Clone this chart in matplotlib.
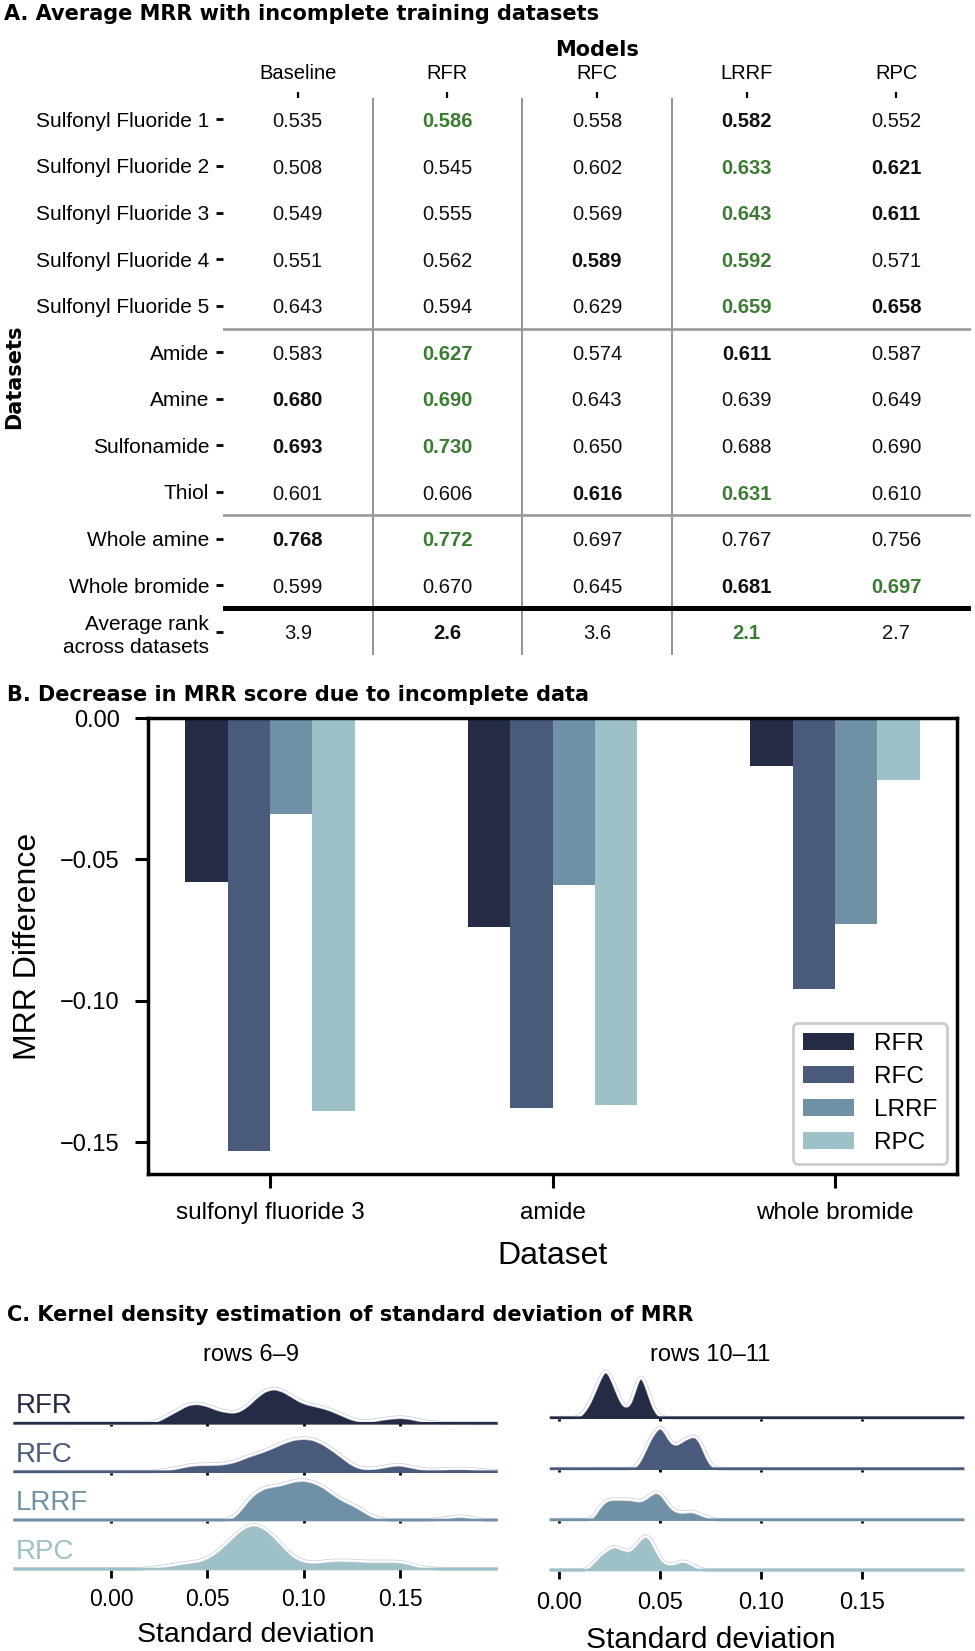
import numpy as np
import matplotlib
matplotlib.use("Agg")
import matplotlib.pyplot as plt
from matplotlib.patches import Patch
from matplotlib.ticker import FuncFormatter

# ------------------------------------------------------------------ data
# Panel A : average MRR table
table_models = ['Baseline', 'RFR', 'RFC', 'LRRF', 'RPC']
table_datasets = ['Sulfonyl Fluoride 1', 'Sulfonyl Fluoride 2', 'Sulfonyl Fluoride 3',
                  'Sulfonyl Fluoride 4', 'Sulfonyl Fluoride 5', 'Amide', 'Amine',
                  'Sulfonamide', 'Thiol', 'Whole amine', 'Whole bromide',
                  'Average rank\nacross datasets']
mrr_baseline = [0.535, 0.508, 0.549, 0.551, 0.643, 0.583, 0.680, 0.693, 0.601, 0.768, 0.599]
mrr_rfr = [0.586, 0.545, 0.555, 0.562, 0.594, 0.627, 0.690, 0.730, 0.606, 0.772, 0.670]
mrr_rfc = [0.558, 0.602, 0.569, 0.589, 0.629, 0.574, 0.643, 0.650, 0.616, 0.697, 0.645]
mrr_lrrf = [0.582, 0.633, 0.643, 0.592, 0.659, 0.611, 0.639, 0.688, 0.631, 0.767, 0.681]
mrr_rpc = [0.552, 0.621, 0.611, 0.571, 0.658, 0.587, 0.649, 0.690, 0.610, 0.756, 0.697]
avg_rank = [3.9, 2.6, 3.6, 2.1, 2.7]

# Panel B : decrease in MRR
bar_datasets = ['sulfonyl fluoride 3', 'amide', 'whole bromide']
bar_models = ['RFR', 'RFC', 'LRRF', 'RPC']
diff_rfr = [-0.058, -0.074, -0.017]
diff_rfc = [-0.153, -0.138, -0.096]
diff_lrrf = [-0.034, -0.059, -0.073]
diff_rpc = [-0.139, -0.137, -0.022]

# Panel C : standard deviations of MRR (binned values with counts)
ridge_models = ['RFR', 'RFC', 'LRRF', 'RPC']
std_bins_rows6_9 = [0.010, 0.015, 0.020, 0.025, 0.030, 0.035, 0.040, 0.045, 0.050, 0.055,
                    0.060, 0.065, 0.070, 0.075, 0.080, 0.085, 0.090, 0.095, 0.100, 0.105,
                    0.110, 0.115, 0.120, 0.125, 0.130, 0.135, 0.140, 0.145, 0.150, 0.155,
                    0.160, 0.165, 0.170, 0.175, 0.180, 0.185, 0.190, 0.195, 0.200]
counts_rows6_9_rfr = [0, 0, 0, 3, 8, 13, 18, 19, 17, 13, 11, 10, 15, 24, 31, 33, 30, 24, 19, 17,
                      15, 12, 8, 4, 2, 2, 4, 5, 6, 5, 3, 1, 1, 0, 0, 0, 0, 0, 0]
counts_rows6_9_rfc = [0, 0, 0, 1, 2, 4, 6, 7, 7, 7, 8, 10, 14, 17, 20, 24, 28, 31, 32, 31,
                      27, 21, 14, 7, 3, 3, 4, 6, 7, 5, 3, 2, 2, 3, 3, 3, 2, 1, 1]
counts_rows6_9_lrrf = [0, 0, 0, 0, 0, 0, 0, 0, 0, 0, 0, 4, 17, 26, 31, 32, 34, 37, 38, 36,
                       32, 25, 19, 15, 10, 4, 1, 0, 0, 0, 0, 0, 1, 2, 4, 3, 1, 0, 0]
counts_rows6_9_rpc = [0, 0, 1, 2, 3, 5, 6, 7, 10, 16, 24, 33, 40, 42, 38, 30, 20, 11, 7, 6,
                      7, 8, 8, 8, 7, 7, 7, 7, 7, 5, 2, 1, 0, 0, 0, 0, 0, 0, 0]

std_bins_rows10_11 = [0.0075, 0.0100, 0.0125, 0.0150, 0.0175, 0.0200, 0.0225, 0.0250, 0.0275, 0.0300,
                      0.0325, 0.0350, 0.0375, 0.0400, 0.0425, 0.0450, 0.0475, 0.0500, 0.0525, 0.0550,
                      0.0575, 0.0600, 0.0625, 0.0650, 0.0675, 0.0700, 0.0725, 0.0750, 0.0775, 0.0800]
counts_rows10_11_rfr = [0, 1, 6, 13, 24, 35, 44, 40, 29, 17, 9, 11, 26, 40, 33, 18, 6, 1, 0, 0,
                        0, 0, 0, 0, 0, 0, 0, 0, 0, 0]
counts_rows10_11_rfc = [0, 0, 0, 0, 0, 0, 0, 0, 0, 0, 0, 0, 1, 7, 17, 27, 34, 39, 34, 25,
                        21, 24, 27, 29, 30, 25, 13, 4, 0, 0]
counts_rows10_11_lrrf = [0, 0, 0, 0, 4, 12, 17, 19, 19, 19, 19, 19, 18, 17, 19, 23, 26, 25, 19, 12,
                         8, 7, 7, 8, 7, 5, 3, 1, 0, 0]
counts_rows10_11_rpc = [0, 0, 0, 3, 8, 13, 17, 20, 22, 20, 18, 17, 22, 28, 32, 30, 20, 11, 6, 5,
                        6, 8, 8, 6, 3, 1, 0, 0, 0, 0]

# ------------------------------------------------------------------ style
palette = ['#262b45', '#4a5a7a', '#6f90a5', '#9ec1c7']
best_green = '#3a7d32'
plt.rcParams['font.family'] = ['Liberation Sans', 'DejaVu Sans']
plt.rcParams['axes.unicode_minus'] = True

W, H = 975, 1651
fig = plt.figure(figsize=(W / 100, H / 100), dpi=100)
fig.patch.set_facecolor('white')


def axes_px(left, top, right, bottom):
    return fig.add_axes([left / W, 1 - bottom / H, (right - left) / W, (bottom - top) / H])


def fmt2(v, pos):
    return f'{v:.2f}'.replace('-', '\u2212')


TITLE = dict(family='DejaVu Sans', fontweight='bold', fontsize=15, va='baseline', ha='left')
fig.text(4 / W, 1 - 20.5 / H, 'A. Average MRR with incomplete training datasets', **TITLE)
fig.text(7 / W, 1 - 700.5 / H, 'B. Decrease in MRR score due to incomplete data', **TITLE)
fig.text(7 / W, 1 - 1321 / H, 'C. Kernel density estimation of standard deviation of MRR', **TITLE)

# ------------------------------------------------------------------ panel A
ax = axes_px(223, 98, 971, 655)
ax.set_xlim(-0.5, 4.5)
ax.set_ylim(11.5, -0.46)
for sp in ax.spines.values():
    sp.set_visible(False)
ax.xaxis.set_ticks_position('top')
ax.xaxis.set_label_position('top')
ax.set_xticks(range(len(table_models)))
ax.set_xticklabels(table_models, fontsize=14.5)
ax.set_yticks(range(len(table_datasets)))
ax.set_yticklabels(table_datasets, fontsize=15, linespacing=1.3)
ax.tick_params(axis='x', length=4.5, width=1.6, pad=6, color='black')
ax.tick_params(axis='y', length=5, width=2.0, pad=5, color='black')
ax.set_xlabel('Models', family='DejaVu Sans', fontweight='bold', fontsize=15)
ax.xaxis.set_label_coords(0.5, 1.0747)
ax.set_ylabel('Datasets', family='DejaVu Sans', fontweight='bold', fontsize=15)
ax.yaxis.set_label_coords(-0.2655, 0.5)

for xb in [0.5, 1.5, 2.5]:
    ax.axvline(xb, color='#8a8a8a', lw=1.3, zorder=1)
ax.axhline(4.5, color='#999999', lw=1.9, zorder=1)
ax.axhline(8.5, color='#999999', lw=1.9, zorder=1)
ax.axhline(10.5, color='black', lw=3.6, zorder=2)

mrr = np.array([mrr_baseline, mrr_rfr, mrr_rfc, mrr_lrrf, mrr_rpc]).T
for i, row in enumerate(mrr):
    order = np.argsort(-row)
    for j, v in enumerate(row):
        color, weight = '#111111', 'normal'
        if j == order[0]:
            color, weight = best_green, 'bold'
        elif j == order[1]:
            weight = 'bold'
        ax.text(j, i + 0.044, f'{v:.3f}', ha='center', va='center', fontsize=14.5,
                color=color, fontweight=weight)
rank_row = len(mrr)
order = np.argsort(avg_rank)
for j, v in enumerate(avg_rank):
    color, weight = '#111111', 'normal'
    if j == order[0]:
        color, weight = best_green, 'bold'
    elif j == order[1]:
        weight = 'bold'
    ax.text(j, rank_row + 0.044, f'{v:.1f}', ha='center', va='center', fontsize=14.5,
            color=color, fontweight=weight)

# ------------------------------------------------------------------ panel B
axb = axes_px(148, 718, 957, 1174)
diffs = [diff_rfr, diff_rfc, diff_lrrf, diff_rpc]
xg = np.arange(len(bar_datasets))
bw_bar = 0.15
for k, (name, vals) in enumerate(zip(bar_models, diffs)):
    axb.bar(xg + (k - 1.5) * bw_bar, vals, width=bw_bar, color=palette[k], label=name,
            linewidth=0, zorder=2)
axb.set_xlim(-0.432, 2.432)
axb.set_ylim(-0.1613, 0)
axb.set_yticks([0, -0.05, -0.10, -0.15])
axb.yaxis.set_major_formatter(FuncFormatter(fmt2))
axb.set_xticks(xg)
axb.set_xticklabels(bar_datasets, fontsize=17.5)
for sp in axb.spines.values():
    sp.set_linewidth(2.5)
    sp.set_color('black')
    sp.set_zorder(3)
axb.tick_params(axis='y', length=9.5, width=2.2, pad=11, labelsize=17)
axb.tick_params(axis='x', length=10, width=2.2, pad=10.5)
axb.set_ylabel('MRR Difference', fontsize=23)
axb.yaxis.set_label_coords(-0.130, 0.5)
axb.set_xlabel('Dataset', fontsize=23)
axb.xaxis.set_label_coords(0.5, -0.147)
leg = axb.legend(handles=[Patch(facecolor=palette[k], label=bar_models[k]) for k in range(4)],
                 loc='lower right', fontsize=17.5, frameon=True, fancybox=True,
                 edgecolor='#cccccc', framealpha=1, borderaxespad=0.42,
                 handlelength=2.1, handleheight=0.7, labelspacing=0.45)
leg.get_frame().set_linewidth(2.0)

# ------------------------------------------------------------------ panel C


def weighted_kde(grid, centers, counts, bw):
    c = np.asarray(centers, float)
    w = np.asarray(counts, float)
    z = (grid[:, None] - c[None, :]) / bw
    return (np.exp(-0.5 * z ** 2) * w).sum(axis=1) / (w.sum() * bw * np.sqrt(2 * np.pi))


ROW_H = 48.0
panels = [
    dict(x0=14.7, x1=496.3, baselines=[1423.3, 1471.7, 1520.0, 1569.0],
         bins=std_bins_rows6_9,
         counts=[counts_rows6_9_rfr, counts_rows6_9_rfc, counts_rows6_9_lrrf, counts_rows6_9_rpc],
         grid=np.linspace(-0.05, 0.2, 1200), bw=0.003, title='rows 6\u20139',
         title_base=1361, title_x=0.49, tick_fs=16.5, tick_pad=7.5, label_fs=20.5,
         label_top=1622, show_names=True),
    dict(x0=458.4, x1=962.9, baselines=[1417.7, 1468.7, 1519.7, 1570.0],
         bins=std_bins_rows10_11,
         counts=[counts_rows10_11_rfr, counts_rows10_11_rfc, counts_rows10_11_lrrf,
                 counts_rows10_11_rpc],
         grid=np.linspace(-0.004, 0.2, 1200), bw=0.0016, title='rows 10\u201311',
         title_base=1361, title_x=0.5, tick_fs=17, tick_pad=9, label_fs=21.5,
         label_top=1626, show_names=False),
]

for p in panels:
    nrow = len(p['baselines'])
    for r, base in enumerate(p['baselines']):
        axr = axes_px(p['x0'], base - ROW_H, p['x1'], base)
        axr.patch.set_alpha(0)
        for sp in axr.spines.values():
            sp.set_visible(False)
        col = palette[r]
        grid = p['grid']
        dens = weighted_kde(grid, p['bins'], p['counts'][r], p['bw'])
        peak_px = max(p['counts'][r]) * 1.05
        axr.set_ylim(0, dens.max() * ROW_H / peak_px)
        axr.set_xlim(-0.05, 0.2)
        axr.fill_between(grid, 0, dens, color=col, lw=0, clip_on=False, zorder=1)
        axr.plot(grid, dens, color='#c9ccda', lw=2.6, clip_on=False, zorder=2)
        axr.plot(grid, dens, color='white', lw=1.6, clip_on=False, zorder=2.5)
        axr.plot(grid, np.zeros_like(grid), color=col, lw=1.9, clip_on=False, zorder=3)
        axr.set_yticks([])
        axr.set_xticks([0.0, 0.05, 0.10, 0.15])
        axr.xaxis.set_major_formatter(FuncFormatter(fmt2))
        if r < nrow - 1:
            axr.tick_params(axis='x', length=2.5, width=2.0, labelbottom=False, color='black')
        else:
            axr.tick_params(axis='x', length=6.5, width=2.0, labelsize=p['tick_fs'],
                            pad=p['tick_pad'], color='black')
            axr.set_xlabel('Standard deviation', fontsize=p['label_fs'])
            axr.xaxis.set_label_coords(0.5, (base - p['label_top']) / ROW_H)
        if r == 0:
            axr.set_title(p['title'], fontsize=17, x=p['title_x'],
                          y=(base - p['title_base']) / ROW_H, pad=0)
        if p['show_names']:
            axr.text(0.002, 17 / ROW_H, ridge_models[r], transform=axr.transAxes,
                     fontsize=20, color=col, ha='left', va='center')

fig.savefig('out.png', dpi=100)
